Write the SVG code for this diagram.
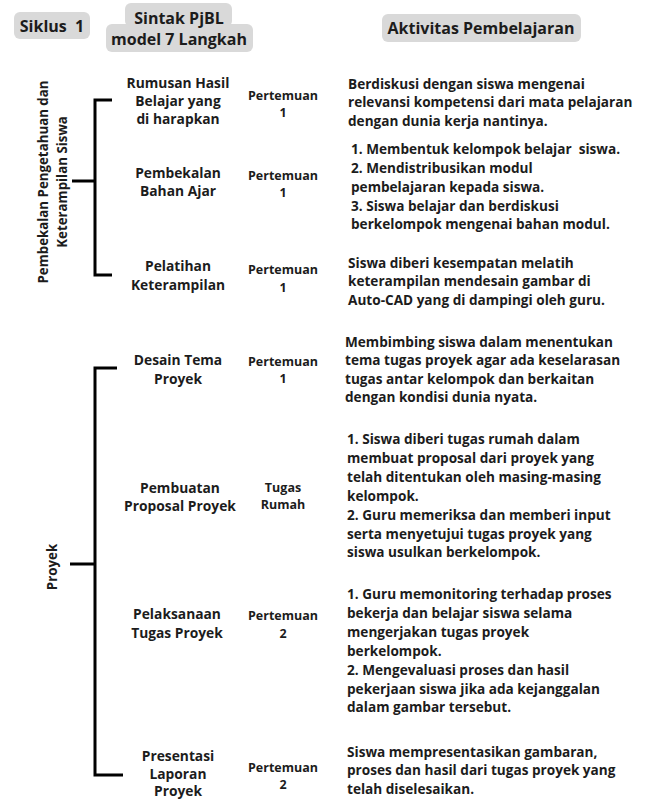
<svg xmlns="http://www.w3.org/2000/svg" width="648" height="800" viewBox="0 0 648 800">
<style>
text{font-family:"Open Sans","Noto Sans","Liberation Sans",sans-serif;font-weight:700;fill:#1c1c1c;dominant-baseline:central;white-space:pre}
.h{font-size:16px;text-anchor:middle}
.n{font-size:13.8px;text-anchor:middle}
.p{font-size:12.5px;text-anchor:middle}
.a{font-size:13.6px}
.r{font-size:13.3px;text-anchor:middle}
.pill{fill:#d9d9d9}
.br{fill:none;stroke:#000;stroke-width:3}
</style>
<rect width="648" height="800" fill="#fff"/>
<g id="header-siklus"><rect class="pill" x="14" y="12" width="76" height="27" rx="6"/><text class="h" x="52" y="26" xml:space="preserve">Siklus  1</text></g>
<g id="header-sintak"><rect class="pill" x="125" y="3" width="107" height="24" rx="6"/><rect class="pill" x="106" y="24" width="147" height="28" rx="6"/><text class="h" x="179" y="18">Sintak PjBL</text><text class="h" x="179" y="39">model 7 Langkah</text></g>
<g id="header-aktivitas"><rect class="pill" x="382" y="14" width="199" height="28" rx="6"/><text class="h" x="481" y="28">Aktivitas Pembelajaran</text></g>
<g id="connectors">
<path class="br" d="M112 100H95V275H112M72 181H95"/>
<path class="br" d="M117 368H95V775H123M70 564H95"/>
</g>
<g id="phase1"><text class="r" transform="translate(43 182) rotate(-90)">Pembekalan Pengetahuan dan</text><text class="r" transform="translate(62 182) rotate(-90)">Keterampilan Siswa</text></g>
<g id="phase2"><text class="r" transform="translate(52 567) rotate(-90)">Proyek</text></g>
<g id="step1"><text class="n" x="178" y="82">Rumusan Hasil</text><text class="n" x="178" y="100">Belajar yang</text><text class="n" x="178" y="118">di harapkan</text><text class="p" x="283" y="95">Pertemuan</text><text class="p" x="283" y="112">1</text>
<text class="a" x="348" y="83">Berdiskusi dengan siswa mengenai</text><text class="a" x="348" y="101.5">relevansi kompetensi dari mata pelajaran</text><text class="a" x="348" y="120">dengan dunia kerja nantinya.</text></g>
<g id="step2"><text class="n" x="178" y="172">Pembekalan</text><text class="n" x="178" y="190">Bahan Ajar</text><text class="p" x="283" y="175">Pertemuan</text><text class="p" x="283" y="192">1</text>
<text class="a" x="351" y="148" xml:space="preserve">1. Membentuk kelompok belajar  siswa.</text><text class="a" x="351" y="167">2. Mendistribusikan modul</text><text class="a" x="351" y="186">pembelajaran kepada siswa.</text><text class="a" x="351" y="205">3. Siswa belajar dan berdiskusi</text><text class="a" x="351" y="223.5">berkelompok mengenai bahan modul.</text></g>
<g id="step3"><text class="n" x="178" y="265">Pelatihan</text><text class="n" x="178" y="284">Keterampilan</text><text class="p" x="283" y="269">Pertemuan</text><text class="p" x="283" y="287">1</text>
<text class="a" x="348" y="262">Siswa diberi kesempatan melatih</text><text class="a" x="348" y="280.5">keterampilan mendesain gambar di</text><text class="a" x="348" y="299">Auto-CAD yang di dampingi oleh guru.</text></g>
<g id="step4"><text class="n" x="178" y="359">Desain Tema</text><text class="n" x="178" y="378">Proyek</text><text class="p" x="283" y="361">Pertemuan</text><text class="p" x="283" y="378">1</text>
<text class="a" x="345" y="341">Membimbing siswa dalam menentukan</text><text class="a" x="345" y="359.5">tema tugas proyek agar ada keselarasan</text><text class="a" x="345" y="378">tugas antar kelompok dan berkaitan</text><text class="a" x="345" y="396.5">dengan kondisi dunia nyata.</text></g>
<g id="step5"><text class="n" x="180" y="487">Pembuatan</text><text class="n" x="180" y="505">Proposal Proyek</text><text class="p" x="283" y="487">Tugas</text><text class="p" x="283" y="504">Rumah</text>
<text class="a" x="347" y="438">1. Siswa diberi tugas rumah dalam</text><text class="a" x="347" y="457">membuat proposal dari proyek yang</text><text class="a" x="347" y="476">telah ditentukan oleh masing-masing</text><text class="a" x="347" y="495">kelompok.</text><text class="a" x="347" y="514">2. Guru memeriksa dan memberi input</text><text class="a" x="347" y="533">serta menyetujui tugas proyek yang</text><text class="a" x="347" y="551.5">siswa usulkan berkelompok.</text></g>
<g id="step6"><text class="n" x="177" y="613">Pelaksanaan</text><text class="n" x="177" y="632">Tugas Proyek</text><text class="p" x="283" y="615">Pertemuan</text><text class="p" x="283" y="633">2</text>
<text class="a" x="347" y="593.5">1. Guru memonitoring terhadap proses</text><text class="a" x="347" y="612.5">bekerja dan belajar siswa selama</text><text class="a" x="347" y="631.5">mengerjakan tugas proyek</text><text class="a" x="347" y="650">berkelompok.</text><text class="a" x="347" y="669">2. Mengevaluasi proses dan hasil</text><text class="a" x="347" y="688">pekerjaan siswa jika ada kejanggalan</text><text class="a" x="347" y="706.5">dalam gambar tersebut.</text></g>
<g id="step7"><text class="n" x="178" y="755">Presentasi</text><text class="n" x="178" y="773">Laporan</text><text class="n" x="178" y="790.5">Proyek</text><text class="p" x="283" y="767">Pertemuan</text><text class="p" x="283" y="784">2</text>
<text class="a" x="347" y="751">Siswa mempresentasikan gambaran,</text><text class="a" x="347" y="769.5">proses dan hasil dari tugas proyek yang</text><text class="a" x="347" y="788">telah diselesaikan.</text></g>
</svg>
